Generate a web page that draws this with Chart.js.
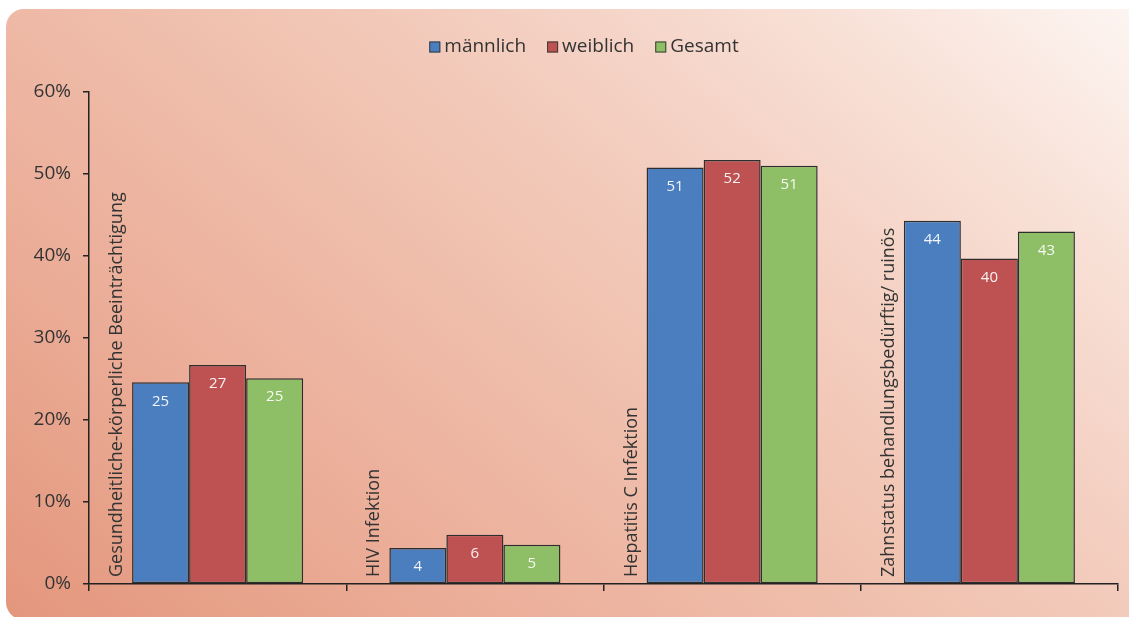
<!DOCTYPE html>
<html>
<head>
<meta charset="utf-8">
<script src="https://cdn.jsdelivr.net/npm/chart.js@4.4.1/dist/chart.umd.min.js"></script>
<style>
  html, body { margin: 0; padding: 0; background: #ffffff; overflow: hidden; }
  #wrap { position: relative; width: 1129px; height: 617px; overflow: hidden; }
  #panel {
    position: absolute; left: 6px; top: 9px; width: 1140px; height: 611px;
    border-radius: 18px;
    background: linear-gradient(40deg, #e3967c 0%, #ebad98 25%, #efbeab 45%, #f3ccbd 62%, #f8e0d6 82%, #fdf6f3 100%);
  }
  canvas { position: absolute; left: 0; top: 0; }
</style>
</head>
<body>
<div id="wrap">
  <div id="panel"></div>
  <canvas id="c" width="1129" height="617"></canvas>
</div>
<script>
// Categories and values (percent)
const categories = [
  'Gesundheitliche-körperliche Beeinträchtigung',
  'HIV Infektion',
  'Hepatitis C Infektion',
  'Zahnstatus behandlungsbedürftig/ ruinös'
];
const seriesNames = ['männlich', 'weiblich', 'Gesamt'];
const maennlich = [24.6, 4.4, 50.8, 44.3];
const weiblich = [26.7, 6.0, 51.7, 39.7];
const gesamt = [25.1, 4.8, 51.0, 43.0];
const yTicks = [0, 10, 20, 30, 40, 50, 60];

const colors = ['#4a7ebf', '#be5252', '#8ebe66'];
const FONT = '"Open Sans", "DejaVu Sans", sans-serif';

// Rotated category names inside the plot, left of each bar group
const categoryLabels = {
  id: 'categoryLabels',
  beforeDatasetsDraw(chart) {
    const { ctx, chartArea, scales: { x } } = chart;
    const catW = (x.right - x.left) / categories.length;
    ctx.save();
    ctx.font = '18px ' + FONT;
    ctx.fillStyle = '#333333';
    ctx.textAlign = 'left';
    ctx.textBaseline = 'middle';
    categories.forEach((name, i) => {
      const left = x.getPixelForValue(i) - catW / 2;
      ctx.save();
      ctx.translate(left + 28, chartArea.bottom - 7);
      ctx.rotate(-Math.PI / 2);
      ctx.fillText(name, 0, 0);
      ctx.restore();
    });
    ctx.restore();
  }
};

// Rounded values inside the top of each bar
const valueLabels = {
  id: 'valueLabels',
  afterDatasetsDraw(chart) {
    const { ctx } = chart;
    ctx.save();
    ctx.font = '15px ' + FONT;
    ctx.fillStyle = 'rgba(255,255,255,0.92)';
    ctx.textAlign = 'center';
    ctx.textBaseline = 'middle';
    chart.data.datasets.forEach((ds, di) => {
      chart.getDatasetMeta(di).data.forEach((bar, i) => {
        ctx.fillText(String(Math.round(ds.data[i])), bar.x, bar.y + 19);
      });
    });
    ctx.restore();
  }
};

// Legend row at the top
const topLegend = {
  id: 'topLegend',
  afterDraw(chart) {
    const { ctx } = chart;
    ctx.save();
    ctx.font = '19px ' + FONT;
    const box = 11, gapText = 4, gapItem = 21;
    const widths = chart.data.datasets.map(ds => ctx.measureText(ds.label).width);
    const total = widths.reduce((a, w) => a + box + gapText + w, 0) + gapItem * (widths.length - 1);
    let xPos = 584 - total / 2;
    const yMid = 47;
    chart.data.datasets.forEach((ds, i) => {
      ctx.fillStyle = ds.backgroundColor;
      ctx.fillRect(xPos, yMid - box / 2, box, box);
      ctx.strokeStyle = '#3a3a3a';
      ctx.lineWidth = 1;
      ctx.strokeRect(xPos + 0.5, yMid - box / 2 + 0.5, box - 1, box - 1);
      ctx.fillStyle = '#333333';
      ctx.textAlign = 'left';
      ctx.textBaseline = 'middle';
      ctx.fillText(ds.label, xPos + box + gapText, yMid);
      xPos += box + gapText + widths[i] + gapItem;
    });
    ctx.restore();
  }
};

const seriesData = [maennlich, weiblich, gesamt];

new Chart(document.getElementById('c'), {
  type: 'bar',
  data: {
    labels: categories,
    datasets: seriesNames.map((name, i) => ({
      label: name,
      data: seriesData[i],
      backgroundColor: colors[i],
      borderColor: '#2e2e2e',
      borderWidth: 1.5,
      borderSkipped: false,
      barPercentage: 1.0,
      categoryPercentage: 0.665
    }))
  },
  options: {
    responsive: false,
    animation: false,
    layout: { padding: { top: 92, right: 11, bottom: 0, left: 0 } },
    plugins: {
      legend: { display: false },
      tooltip: { enabled: false }
    },
    scales: {
      x: {
        grid: { display: true, drawOnChartArea: false, offset: true, color: '#222', tickLength: 7, lineWidth: 1.5 },
        border: { color: '#222', width: 1.5 },
        ticks: { display: false },
        afterFit(scale) { scale.height = 33; }
      },
      y: {
        min: 0,
        max: 60,
        afterBuildTicks(scale) { scale.ticks = yTicks.map(v => ({ value: v })); },
        grid: { display: true, drawOnChartArea: false, color: '#222', tickLength: 6, lineWidth: 1.5 },
        border: { color: '#222', width: 1.5 },
        ticks: {
          font: { family: FONT, size: 19 },
          color: '#333333',
          padding: 12,
          callback: v => v + '%'
        },
        afterFit(scale) { scale.width = 89; }
      }
    }
  },
  plugins: [categoryLabels, valueLabels, topLegend]
});
</script>
</body>
</html>
